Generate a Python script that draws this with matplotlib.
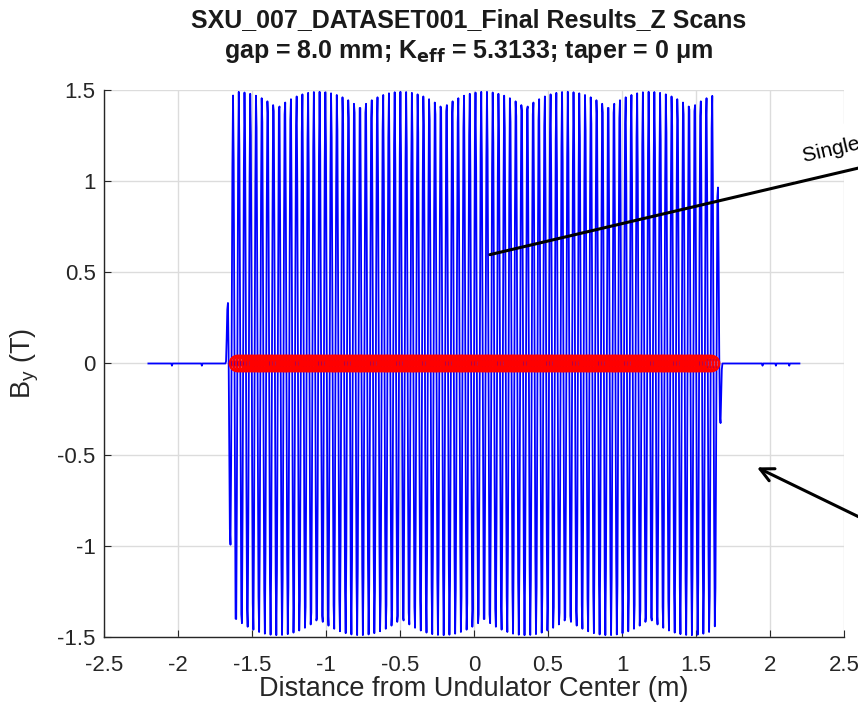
import numpy as np
import matplotlib.pyplot as plt

# undulator / scan parameters
PERIOD = 0.039          # m
PEAK_FIELD = 1.49       # T
N_POLES = 172
SCAN_START, SCAN_END, SCAN_STEP = -2.2, 2.2, 0.0043   # m

# end-pole strengths relative to the central peak field (T)
left_end_poles = [0.28, 1.02, 1.47]
right_end_poles = [1.47, 1.00, 0.28]

# small background bumps seen outside the magnet (m, T)
tail_z = [-2.04, -1.84, 1.95, 2.04, 2.13]
tail_b = [-0.012, -0.012, -0.012, -0.012, -0.012]

title_1 = "SXU_007_DATASET001_Final Results_Z Scans"
title_2 = r"gap = 8.0 mm; K$_{\mathbf{eff}}$ = 5.3133; taper = 0 μm"

xticks = [-2.5, -2, -1.5, -1, -0.5, 0, 0.5, 1, 1.5, 2, 2.5]
xticklabels = ["-2.5", "-2", "-1.5", "-1", "-0.5", "0", "0.5", "1", "1.5", "2", "2.5"]
yticks = [-1.5, -1, -0.5, 0, 0.5, 1, 1.5]
yticklabels = ["-1.5", "-1", "-0.5", "0", "0.5", "1", "1.5"]

# pole positions and their peak strength
half = PERIOD / 2
z_first = -half * (N_POLES - 1) / 2
pole_z = z_first + half * np.arange(N_POLES)
pole_mag = np.full(N_POLES, PEAK_FIELD)
pole_mag[:3] = left_end_poles
pole_mag[-3:] = right_end_poles

env_z = np.concatenate([[pole_z[0] - half / 2], pole_z, [pole_z[-1] + half / 2]])
env_b = np.concatenate([[0], pole_mag, [0]])

z = np.arange(SCAN_START, SCAN_END + 1e-9, SCAN_STEP)
by = np.interp(z, env_z, env_b, left=0, right=0) * np.cos(np.pi * (z - z_first) / half)
for tz, tb in zip(tail_z, tail_b):
    by[np.argmin(np.abs(z - tz))] = tb

# zero crossings between poles
zc = z_first + half * (np.arange(N_POLES - 1) + 0.5)
zc = zc[np.abs(zc) <= 1.615]

plt.rcParams['font.family'] = ['Liberation Sans', 'DejaVu Sans']
fig = plt.figure(figsize=(8.58, 7.13), dpi=100)
ax = fig.add_axes([0.1212, 0.1066, 0.8625, 0.7672])

ax.plot(z, by, color=(0, 0, 1), lw=1.3)
ax.plot(zc, np.zeros_like(zc), 'o', mfc='none', mec=(1, 0, 0), ms=11, mew=1.8)

ax.set_xlim(-2.5, 2.5)
ax.set_ylim(-1.5, 1.5)
ax.set_xticks(xticks)
ax.set_xticklabels(xticklabels)
ax.set_yticks(yticks)
ax.set_yticklabels(yticklabels)
ax.grid(True, color='#dcdcdc', lw=1.0)
ax.set_axisbelow(True)
for side in ('top', 'right'):
    ax.spines[side].set_visible(False)
for side in ('left', 'bottom'):
    ax.spines[side].set_color('#262626')
    ax.spines[side].set_linewidth(1.0)
ax.tick_params(direction='in', length=5, colors='#262626', labelsize=16)
ax.tick_params(axis='x', pad=13)
ax.tick_params(axis='y', pad=6)

ax.set_xlabel("Distance from Undulator Center (m)", fontsize=19.5, color='#262626', labelpad=0)
ax.set_ylabel(r"B$_\mathregular{y}$ (T)", fontsize=19.5, color='#262626', labelpad=12)

fig.text(0.546, 0.972, title_1, ha='center', va='center', fontsize=18, fontweight='bold',
         color='#1a1a1a')
fig.text(0.546, 0.928, title_2, ha='center', va='center', fontsize=18, fontweight='bold',
         color='#1a1a1a')

# callouts running off the right edge; the label box sits under the lines
ax.text(0.937, 0.772, "Single period", transform=fig.transFigure, rotation=13,
        rotation_mode='anchor', ha='left', va='baseline', fontsize=15, clip_on=False,
        zorder=4, bbox=dict(facecolor='white', edgecolor='none', pad=10))
ax.annotate('', xy=(0.108, 0.597), xycoords='data',
            xytext=(1.049, 0.778), textcoords='figure fraction',
            arrowprops=dict(arrowstyle='-', color='black', lw=2.2, shrinkA=0, shrinkB=0),
            annotation_clip=False, zorder=5)
ax.annotate('', xy=(1.912, -0.57), xycoords='data',
            xytext=(1.049, 0.247), textcoords='figure fraction',
            arrowprops=dict(arrowstyle='->', color='black', lw=2.2, shrinkA=0, shrinkB=0,
                            mutation_scale=24),
            annotation_clip=False, zorder=5)

fig.savefig("out.png", dpi=100)
